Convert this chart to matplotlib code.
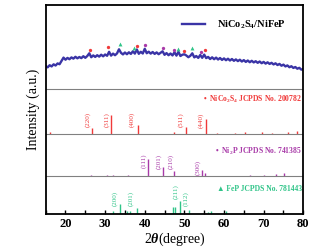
import numpy as np
import matplotlib
matplotlib.use('Agg')
import matplotlib.pyplot as plt
from matplotlib.ticker import MultipleLocator

plt.rcParams['font.family'] = ['Liberation Serif', 'DejaVu Sans']
plt.rcParams['font.weight'] = 'bold'
plt.rcParams['mathtext.fontset'] = 'custom'
plt.rcParams['mathtext.rm'] = 'Liberation Serif:bold'
plt.rcParams['mathtext.it'] = 'Liberation Serif:italic:bold'
plt.rcParams['mathtext.bf'] = 'Liberation Serif:bold'

# measured pattern, 15-80 deg in 0.5 deg steps
two_theta = np.arange(15, 80.01, 0.5)
xrd = [22.8, 21.5, 23.6, 22.4, 24.5, 23.3, 25.4, 24.6, 27.8, 31.2,
       29.1, 30.9, 29.6, 31.4, 30.2, 32.0, 30.5, 31.8, 30.7, 32.6,
       31.0, 32.8, 35.5, 31.6, 33.4, 31.9, 33.6, 32.2, 34.1, 32.5,
       34.3, 33.0, 37.0, 33.2, 35.2, 33.6, 35.4, 39.5, 36.0, 34.4,
       36.3, 34.6, 36.5, 34.9, 37.5, 35.2, 39.3, 35.0, 37.0, 35.3,
       40.0, 35.6, 37.1, 35.2, 36.8, 34.9, 36.4, 34.6, 36.0, 37.5,
       34.0, 35.7, 33.6, 35.3, 33.4, 36.5, 33.2, 37.0, 32.8, 34.1,
       34.5, 33.3, 31.6, 33.0, 35.5, 31.4, 32.8, 30.9, 33.8, 31.0,
       34.2, 30.7, 31.9, 29.8, 31.5, 29.6, 31.2, 29.3, 30.8, 28.9,
       30.4, 28.6, 30.1, 28.3, 29.8, 28.0, 29.4, 27.7, 29.1, 27.3,
       28.7, 26.9, 28.3, 26.6, 28.0, 26.4, 27.6, 26.0, 27.3, 25.6,
       26.9, 25.2, 26.5, 24.9, 26.0, 24.4, 25.5, 23.8, 24.9, 23.1,
       24.2, 22.4, 23.4, 21.6, 22.6, 20.9, 21.8, 20.1, 21.0, 19.2,
       19.8]

# peak markers on the measured pattern
mk_nco_x = [26.1, 30.8, 38.1, 49.9, 55.2]
mk_nco_y = [39, 41.5, 43, 37.5, 38.5]
mk_ni2p_x = [40.1, 44.6, 47.5, 54.1]
mk_ni2p_y = [44, 40.5, 39, 36.5]
mk_fep_x = [33.7, 37.2, 48.5, 51.8]
mk_fep_y = [45, 40.5, 40, 40.5]

# reference sticks (relative intensity)
nco_pos = [16.0, 26.6, 31.4, 38.2, 47.4, 50.4, 55.4, 58.3, 62.8, 65.3, 69.5, 72.0, 76.1, 78.5]
nco_int = [9, 30, 100, 47, 10, 38, 77, 5, 5, 10, 10, 5, 8, 17]
nco_hkl = ['(220)', '(311)', '(400)', '(511)', '(440)']
nco_hkl_x = [25.75, 30.45, 36.7, 49.1, 54.1]

ni2p_pos = [26.4, 30.5, 32.0, 35.7, 40.8, 44.7, 47.5, 54.5, 55.3, 66.6, 70.2, 73.0, 75.1]
ni2p_int = [6, 6, 6, 6, 100, 54, 29, 35, 16, 6, 6, 9, 17]
ni2p_hkl = ['(111)', '(201)', '(210)', '(300)']
ni2p_hkl_x = [39.7, 43.6, 46.5, 53.4]

fep_pos = [24.5, 31.9, 33.7, 35.5, 36.3, 38.1, 47.1, 47.6, 49.0, 51.1, 56.0, 56.8, 60.5, 75.0]
fep_int = [8, 21, 77, 23, 23, 46, 52, 52, 100, 33, 15, 23, 23, 8]
fep_hkl = ['(200)', '(201)', '(211)', '(112)']
fep_hkl_x = [32.5, 36.5, 47.8, 50.4]

red = '#f03a3a'
purple = '#a83aa8'
green = '#2fc488'
blue = '#3a34a6'

fig = plt.figure(figsize=(3.24, 2.5), dpi=100)
ax = fig.add_axes([0.141, 0.144, 0.795, 0.837])

# measured curve
ax.plot(two_theta, np.array(xrd) + 125, color=blue, lw=1.7, label='NiCo$_2$S$_4$/NiFeP')
ax.plot(mk_nco_x, np.array(mk_nco_y) + 125, 'o', color=red, ms=2.4, mec='none', zorder=4)
ax.plot(mk_ni2p_x, np.array(mk_ni2p_y) + 125, 'o', color=purple, ms=2.4, mec='none', zorder=4)
ax.plot(mk_fep_x, np.array(mk_fep_y) + 125, '^', color=green, ms=2.8, mec='none', zorder=4)

# stick patterns
ax.vlines(nco_pos, 80, 80 + np.array(nco_int) * 0.19, color=red, lw=1.0)
ax.vlines(ni2p_pos, 38, 38 + np.array(ni2p_int) * 0.173, color=purple, lw=1.0)
ax.vlines(fep_pos, 0, np.array(fep_int) * 0.13, color=green, lw=1.0)

for lab, x in zip(nco_hkl, nco_hkl_x):
    ax.text(x, 94, lab, rotation=90, ha='center', va='center', fontsize=5, color=red, fontweight='normal')
for lab, x, y in zip(ni2p_hkl, ni2p_hkl_x, [53, 52, 52, 46]):
    ax.text(x, y, lab, rotation=90, ha='center', va='center', fontsize=5, color=purple, fontweight='normal')
for lab, x, y in zip(fep_hkl, fep_hkl_x, [15, 15, 22, 15]):
    ax.text(x, y, lab, rotation=90, ha='center', va='center', fontsize=5, color=green, fontweight='normal')

ax.text(79.6, 114, '•  NiCo$_2$S$_4$ JCPDS No. 200782', ha='right', va='center', fontsize=5.5, color=red)
ax.text(79.6, 63, '•  Ni$_2$P JCPDS No. 741385', ha='right', va='center', fontsize=5.5, color=purple)
ax.text(79.6, 25, '▲ FeP JCPDS No. 781443', ha='right', va='center', fontsize=5.5, color=green,
        family=['Liberation Serif', 'DejaVu Sans'])

for yl in [38, 80, 125]:
    ax.axhline(yl, color='#808080', lw=0.8)

ax.set_xlim(15, 80)
ax.set_ylim(0, 209)
ax.set_yticks([])
ax.xaxis.set_major_locator(MultipleLocator(10))
ax.xaxis.set_minor_locator(MultipleLocator(5))
ax.tick_params(axis='x', which='both', direction='in', length=3, width=1, labelsize=9, pad=3)
for s in ax.spines.values():
    s.set_linewidth(1.3)

ax.set_xlabel(r'2$\it{\theta}$(degree)', fontsize=10, labelpad=0)
ax.set_ylabel('Intensity (a.u.)', fontsize=10, labelpad=4)

ax.legend(loc='upper right', bbox_to_anchor=(0.97, 0.98), frameon=False, fontsize=7.5,
          handlelength=2.2, handletextpad=1.2)

fig.savefig('out.png', dpi=100)
